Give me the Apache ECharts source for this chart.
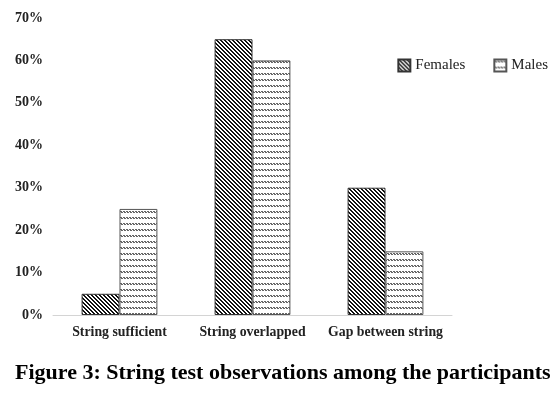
<!DOCTYPE html>
<html>
<head>
<meta charset="utf-8">
<script src="https://cdn.jsdelivr.net/npm/echarts@6/dist/echarts.min.js"></script>
<style>
  html, body { margin: 0; padding: 0; background: #fff; }
  #chart { width: 560px; height: 399px; }
</style>
</head>
<body>
<div id="chart"></div>
<script>
const categories = ["String sufficient", "String overlapped", "Gap between string"]
const females = [5, 65, 30]
const males = [25, 60, 15]
const yTicks = [0, 10, 20, 30, 40, 50, 60, 70]

// hatch fills, drawn on small canvases and repeated
const makePattern = (w, h, pixels, ink) => {
  const c = document.createElement("canvas")
  c.width = w
  c.height = h
  const ctx = c.getContext("2d")
  ctx.fillStyle = "#fff"
  ctx.fillRect(0, 0, w, h)
  ctx.fillStyle = ink
  pixels.forEach(p => ctx.fillRect(p[0], p[1], 1, 1))
  return { image: c, repeat: "repeat" }
}

// dense "\" stripes
const femaleFill = makePattern(4, 4, [
  [0, 0], [1, 0], [1, 1], [2, 1], [2, 2], [3, 2], [3, 3], [0, 3]
], "#111")

// rows of small zigzag dashes
const maleFill = makePattern(3, 6, [
  [0, 1], [1, 1], [1, 2], [2, 2]
], "#666")

const chart = echarts.init(document.getElementById("chart"))
const serif = "Liberation Serif"

chart.setOption({
  animation: false,
  title: {
    text: "Figure 3: String test observations among the participants",
    left: 15,
    top: 362,
    padding: 0,
    textStyle: { fontFamily: serif, fontWeight: "bold", fontSize: 22, color: "#000" }
  },
  legend: {
    right: 7,
    top: 53,
    icon: "rect",
    itemWidth: 12,
    itemHeight: 12,
    itemGap: 28,
    textStyle: { fontFamily: serif, fontSize: 15, color: "#222" },
    data: ["Females", "Males"]
  },
  grid: { left: 53, right: 108, top: 18, bottom: 84 },
  xAxis: {
    type: "category",
    data: categories,
    axisLine: { lineStyle: { color: "#d4d4d4", width: 1 } },
    axisTick: { length: 5, lineStyle: { color: "#d4d4d4" } },
    axisLabel: {
      interval: 0,
      fontFamily: serif, fontWeight: "bold", fontSize: 13.8, color: "#222", margin: 10
    }
  },
  yAxis: {
    type: "value",
    min: yTicks[0],
    max: yTicks[yTicks.length - 1],
    interval: 10,
    splitLine: { show: false },
    axisLine: { show: false },
    axisTick: { show: false },
    axisLabel: {
      formatter: "{value}%",
      fontFamily: serif, fontWeight: "bold", fontSize: 14, color: "#222", margin: 10
    }
  },
  series: [
    {
      name: "Females",
      type: "bar",
      data: females,
      barGap: "0%",
      barCategoryGap: "43%",
      itemStyle: { color: femaleFill, borderColor: "#333", borderWidth: 1 }
    },
    {
      name: "Males",
      type: "bar",
      data: males,
      itemStyle: { color: maleFill, borderColor: "#555", borderWidth: 1 }
    }
  ]
})
</script>
</body>
</html>
